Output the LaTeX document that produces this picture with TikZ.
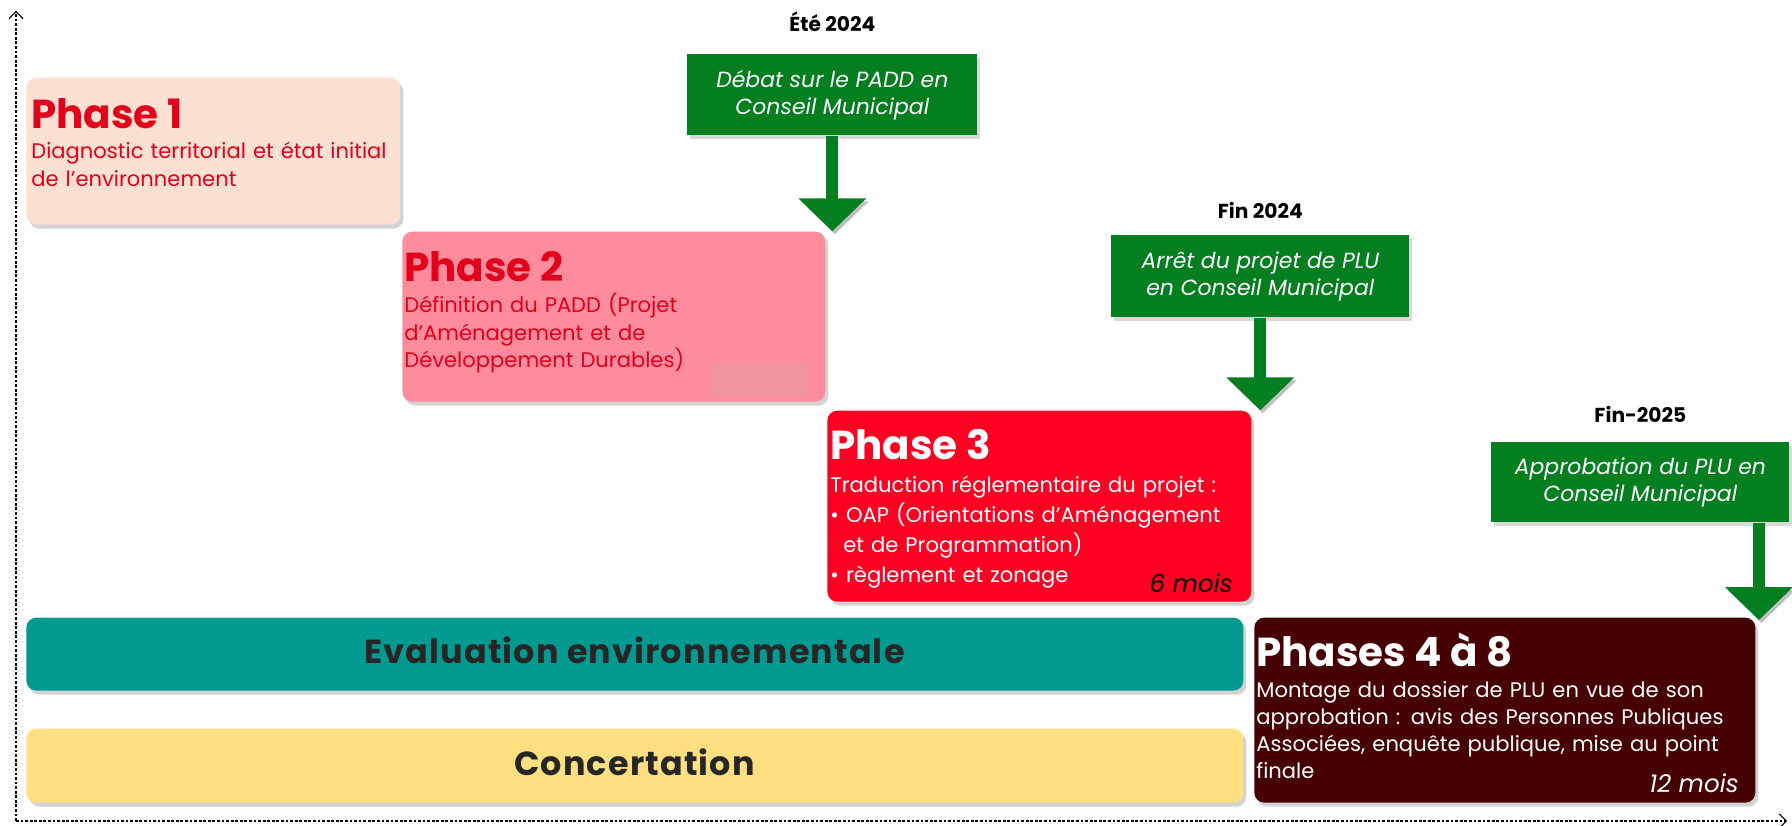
\documentclass[tikz,border=0pt]{standalone}
\usepackage{fontspec}
\setmainfont{Poppins}
\usetikzlibrary{arrows.meta,positioning,shadows}

\definecolor{peach}{HTML}{FCE1D3}
\definecolor{rose}{HTML}{FF8C9C}
\definecolor{rosepatch}{HTML}{F0949F}
\definecolor{alarm}{HTML}{FF0022}
\definecolor{maroon}{HTML}{470001}
\definecolor{evalteal}{HTML}{009A91}
\definecolor{concyellow}{HTML}{FFDF80}
\definecolor{councilgreen}{HTML}{037F20}
\definecolor{titlered}{HTML}{E2001A}
\definecolor{darktext}{HTML}{262626}

\begin{document}
\begin{tikzpicture}[>=Stealth,
    phasebox/.style={rounded corners=0.2cm, inner sep=0pt, anchor=south west,
      drop shadow={shadow xshift=0.06cm, shadow yshift=-0.08cm, opacity=0.35}},
    councilbox/.style={fill=councilgreen, inner sep=0pt, anchor=north west,
      text=white, align=center, font=\itshape\fontsize{12.5}{15.4}\selectfont,
      drop shadow={shadow xshift=0.06cm, shadow yshift=-0.08cm, opacity=0.3}},
    phasetitle/.style={anchor=base west, inner sep=0pt, font=\bfseries\fontsize{23}{27}\selectfont},
    phasetext/.style={anchor=base west, inner sep=0pt, text width=10cm, align=left,
      font=\fontsize{12}{15.4}\selectfont},
    duration/.style={anchor=base east, inner sep=0pt, font=\itshape\fontsize{14}{16}\selectfont},
    bandtext/.style={font=\bfseries\fontsize{19}{22}\selectfont\addfontfeature{LetterSpace=3.5}, text=darktext},
    datelabel/.style={inner sep=0pt, font=\bfseries\fontsize{11.5}{14}\selectfont},
    pointer/.style={line width=0.24cm, draw=councilgreen, -{Triangle[width=1.32cm,length=0.66cm]},
      preaction={draw=black!25, transform canvas={shift={(0.05,-0.06)}}}},
    axis/.style={dash pattern=on 1.6pt off 1pt, line width=0.6pt, -{Straight Barb[length=4pt,width=8pt]}}]

    \useasboundingbox (0,0) rectangle (35.84,16.5);

    % axes en pointilles
    \coordinate (O) at (0.32,0.08);
    \coordinate (Ytop) at (0.32,16.28);
    \coordinate (Xend) at (35.74,0.08);
    \draw[axis] (O) -- (Ytop);
    \draw[axis] (O) -- (Xend);

    % Phase 1
    \node[phasebox, fill=peach, minimum width=7.48cm, minimum height=2.94cm] (phaseone) at (0.52,12.0) {};
    \node[phasetitle, text=titlered] (phaseonetitle) at (0.62,13.92) {Phase 1};
    \node[phasetext, text=titlered] (phaseonetext) at (0.62,13.32)
        {Diagnostic territorial et état initial\\de l’environnement};

    % Phase 2
    \node[phasebox, fill=rose, minimum width=8.46cm, minimum height=3.40cm] (phasetwo) at (8.04,8.46) {};
    \fill[rosepatch] (14.2,8.56) rectangle (16.16,9.24);
    \node[phasetitle, text=titlered] (phasetwotitle) at (8.08,10.86) {Phase 2};
    \node[phasetext, text=titlered] (phasetwotext) at (8.08,10.24)
        {Définition du PADD (Projet\\d’Aménagement et de\\Développement Durables)};

    % Phase 3
    \node[phasebox, fill=alarm, minimum width=8.48cm, minimum height=3.82cm] (phasethree) at (16.54,4.46) {};
    \node[phasetitle, text=white] (phasethreetitle) at (16.6,7.3) {Phase 3};
    \node[phasetext, text=white, font=\fontsize{12}{17.2}\selectfont] (phasethreetext) at (16.6,6.66)
        {Traduction réglementaire du projet :\\
         \textbullet\ OAP (Orientations d’Aménagement\\
         \hspace*{0.26cm}et de Programmation)\\
         \textbullet\ règlement et zonage};
    \node[duration, text=black] (sixmois) at (24.66,4.66) {6 mois};

    % Phases 4 a 8
    \node[phasebox, fill=maroon, minimum width=10.02cm, minimum height=3.70cm] (phasefour) at (25.08,0.44) {};
    \node[phasetitle, text=white] (phasefourtitle) at (25.12,3.18) {Phases 4 à 8};
    \node[phasetext, text=white] (phasefourtext) at (25.12,2.56)
        {Montage du dossier de PLU en vue de son\\approbation : avis des Personnes Publiques\\Associées, enquête publique, mise au point\\finale};
    \node[duration, text=white] (douzemois) at (34.78,0.66) {12 mois};

    % bandes transversales
    \node[phasebox, fill=evalteal, minimum width=24.34cm, minimum height=1.46cm] (evaluation) at (0.52,2.68) {};
    \node[bandtext] (evaluationtext) at (12.69,3.49) {Evaluation environnementale};
    \node[phasebox, fill=concyellow, minimum width=24.34cm, minimum height=1.48cm] (concertation) at (0.52,0.44) {};
    \node[bandtext] (concertationtext) at (12.69,1.26) {Concertation};

    % etapes en Conseil Municipal
    \node[councilbox, minimum width=5.8cm, minimum height=1.62cm] (debat) at (13.74,15.42)
        {Débat sur le PADD en\\Conseil Municipal};
    \node[councilbox, minimum width=5.96cm, minimum height=1.64cm] (arret) at (22.22,11.8)
        {Arrêt du projet de PLU\\en Conseil Municipal};
    \node[councilbox, minimum width=5.96cm, minimum height=1.6cm] (approbation) at (29.82,7.66)
        {Approbation du PLU en\\Conseil Municipal};

    \node[datelabel, above=0.44cm of debat] (ete) {Été 2024};
    \node[datelabel, above=0.32cm of arret] (finquatre) {Fin 2024};
    \node[datelabel, above=0.38cm of approbation] (fincinq) {Fin-2025};

    % fleches vers les phases
    \coordinate (approbtip) at (35.18,4.1);
    \draw[pointer] (debat.south) -- (debat.south |- phasetwo.north);
    \draw[pointer] (arret.south) -- (arret.south |- phasethree.north);
    \draw[pointer] (approbation.south -| approbtip) -- (approbtip);
\end{tikzpicture}
\end{document}
